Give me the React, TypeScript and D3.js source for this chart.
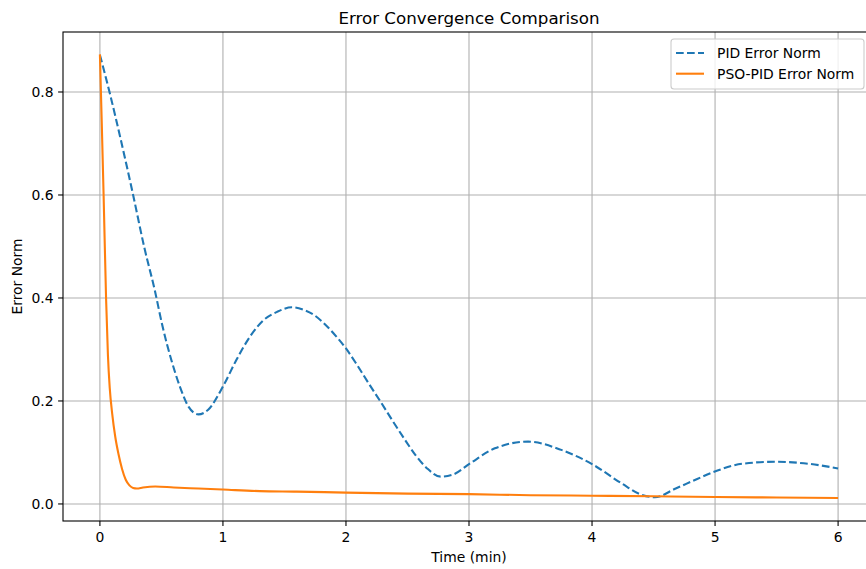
import React, { useEffect, useRef } from "react";
import * as d3 from "d3";

// values
const pidTime = [0, 0.08, 0.17, 0.27, 0.36, 0.445, 0.51, 0.58, 0.65, 0.72, 0.8, 0.88, 1.0, 1.11, 1.22, 1.33, 1.44, 1.56, 1.655, 1.74, 1.82, 1.9, 2.0, 2.09, 2.185, 2.28, 2.375, 2.47, 2.565, 2.66, 2.77, 2.87, 3.01, 3.21, 3.48, 3.75, 4.01, 4.24, 4.4, 4.51, 4.68, 4.85, 5.02, 5.22, 5.49, 5.76, 6.0];
const pidError = [0.872, 0.798, 0.707, 0.6, 0.499, 0.416, 0.344, 0.28, 0.228, 0.189, 0.174, 0.183, 0.228, 0.28, 0.325, 0.357, 0.373, 0.382, 0.377, 0.367, 0.351, 0.331, 0.302, 0.27, 0.234, 0.199, 0.163, 0.128, 0.095, 0.069, 0.053, 0.057, 0.079, 0.108, 0.121, 0.105, 0.076, 0.04, 0.018, 0.013, 0.03, 0.048, 0.065, 0.078, 0.082, 0.078, 0.069];

const psoTime = [0, 0.015, 0.03, 0.05, 0.065, 0.08, 0.1, 0.125, 0.15, 0.18, 0.21, 0.24, 0.27, 0.3, 0.35, 0.45, 0.6, 0.8, 1.0, 1.3, 1.6, 2.0, 2.5, 3.0, 3.5, 4.0, 4.5, 5.0, 5.5, 6.0];
const psoError = [0.873, 0.74, 0.6, 0.4, 0.29, 0.225, 0.175, 0.13, 0.098, 0.068, 0.047, 0.036, 0.031, 0.03, 0.032, 0.034, 0.032, 0.03, 0.028, 0.025, 0.024, 0.022, 0.02, 0.019, 0.017, 0.016, 0.015, 0.0135, 0.0125, 0.0115];

const xTicks = [0, 1, 2, 3, 4, 5, 6];
const yTicks = [0.0, 0.2, 0.4, 0.6, 0.8];
const seriesNames = ["PID Error Norm", "PSO-PID Error Norm"];

const W = 866, H = 569;
const font = "'DejaVu Sans', sans-serif";

function Chart() {
    const ref = useRef<SVGSVGElement>(null);

    useEffect(() => {
        const svg = d3.select(ref.current);
        svg.selectAll("*").remove();

        const left = 63, right = 875, top = 32, bottom = 521;
        const x = d3.scaleLinear().domain([-0.3, 6.3]).range([left, right]);
        const y = d3.scaleLinear().domain([-0.0331, 0.9165]).range([bottom, top]);

        svg.append("rect").attr("width", W).attr("height", H).attr("fill", "#fff");

        svg.append("defs").append("clipPath").attr("id", "plotclip")
            .append("rect").attr("x", left).attr("y", top).attr("width", right - left).attr("height", bottom - top);

        // grid
        const grid = svg.append("g").attr("stroke", "#b0b0b0").attr("stroke-width", 1.1);
        grid.selectAll(".gx").data(xTicks).join("line")
            .attr("x1", d => x(d)).attr("x2", d => x(d)).attr("y1", top).attr("y2", bottom);
        grid.selectAll(".gy").data(yTicks).join("line")
            .attr("y1", d => y(d)).attr("y2", d => y(d)).attr("x1", left).attr("x2", right);

        // series
        const line = d3.line<[number, number]>()
            .x(d => x(d[0])).y(d => y(d[1]))
            .curve(d3.curveMonotoneX);

        const plot = svg.append("g").attr("clip-path", "url(#plotclip)").attr("fill", "none");
        plot.append("path")
            .attr("d", line(pidTime.map((t, i) => [t, pidError[i]])))
            .attr("stroke", "#1f77b4").attr("stroke-width", 2.1)
            .attr("stroke-dasharray", "7.7,3.3");
        plot.append("path")
            .attr("d", line(psoTime.map((t, i) => [t, psoError[i]])))
            .attr("stroke", "#ff7f0e").attr("stroke-width", 2.1);

        // spines
        svg.append("rect")
            .attr("x", left).attr("y", top).attr("width", right - left).attr("height", bottom - top)
            .attr("fill", "none").attr("stroke", "#000").attr("stroke-width", 1.1);

        // ticks
        const tk = svg.append("g").attr("font-family", font).attr("font-size", 13.9).attr("fill", "#000");
        tk.selectAll(".xt").data(xTicks).join("line")
            .attr("x1", d => x(d)).attr("x2", d => x(d)).attr("y1", bottom).attr("y2", bottom + 4.9)
            .attr("stroke", "#000").attr("stroke-width", 1.1);
        tk.selectAll(".xl").data(xTicks).join("text")
            .attr("x", d => x(d)).attr("y", 542).attr("text-anchor", "middle")
            .text(d => String(d));
        tk.selectAll(".yt").data(yTicks).join("line")
            .attr("y1", d => y(d)).attr("y2", d => y(d)).attr("x1", left - 4.9).attr("x2", left)
            .attr("stroke", "#000").attr("stroke-width", 1.1);
        tk.selectAll(".yl").data(yTicks).join("text")
            .attr("x", 53.5).attr("y", d => y(d) + 5).attr("text-anchor", "end")
            .text(d => d.toFixed(1));

        // labels
        svg.append("text").attr("x", (left + right) / 2).attr("y", 24)
            .attr("text-anchor", "middle").attr("font-family", font).attr("font-size", 16.7)
            .text("Error Convergence Comparison");
        svg.append("text").attr("x", (left + right) / 2).attr("y", 562)
            .attr("text-anchor", "middle").attr("font-family", font).attr("font-size", 13.9)
            .text("Time (min)");
        svg.append("text")
            .attr("transform", `translate(22,${(top + bottom) / 2}) rotate(-90)`)
            .attr("text-anchor", "middle").attr("font-family", font).attr("font-size", 13.9)
            .text("Error Norm");

        // legend
        const lg = svg.append("g");
        lg.append("rect").attr("x", 671).attr("y", 39).attr("width", 193).attr("height", 50)
            .attr("rx", 3).attr("fill", "#fff").attr("fill-opacity", 0.8)
            .attr("stroke", "#cccccc").attr("stroke-width", 1.1);
        const rows = [
            { name: seriesNames[0], color: "#1f77b4", dash: "7.7,3.3" },
            { name: seriesNames[1], color: "#ff7f0e", dash: null },
        ];
        rows.forEach((r, i) => {
            const cy = 53 + i * 20.7;
            lg.append("line").attr("x1", 676).attr("x2", 704).attr("y1", cy).attr("y2", cy)
                .attr("stroke", r.color).attr("stroke-width", 2.1)
                .attr("stroke-dasharray", r.dash);
            lg.append("text").attr("x", 717).attr("y", cy + 5)
                .attr("font-family", font).attr("font-size", 13.9).text(r.name);
        });
    }, []);

    return <svg ref={ref} width={W} height={H} style={{ position: "absolute", left: 0, top: 0 }} />;
}

export default function App() {
    return <Chart />;
}
